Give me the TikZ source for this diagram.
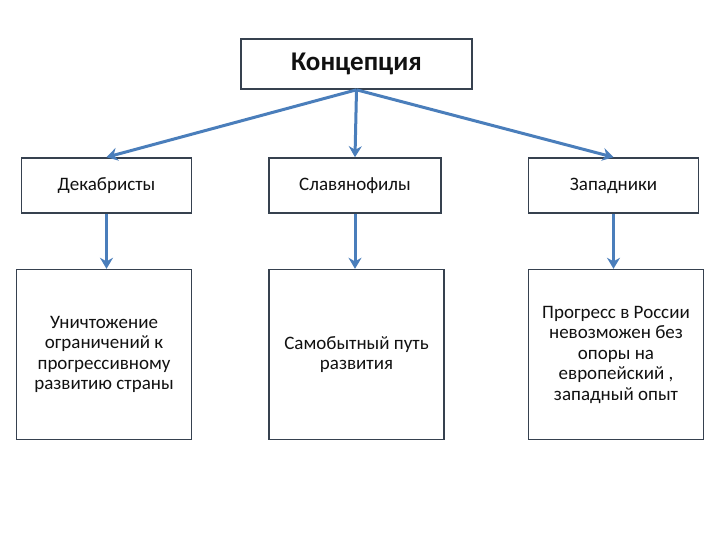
\documentclass[tikz,border=0pt]{standalone}
\usepackage{fontspec}
\setmainfont{Carlito}
\usepackage{xcolor}
\usetikzlibrary{arrows.meta,positioning}
\definecolor{ckInk}{HTML}{36414F}
\definecolor{ckLine}{HTML}{4A7EBB}
\definecolor{ckText}{HTML}{111111}
\tikzset{
  % Title box
  tbox/.style={rectangle,draw=ckInk,line width=1.6bp,fill=white,
    minimum width=231bp,minimum height=50bp,
    align=center,font=\fontsize{27bp}{30bp}\selectfont\bfseries,text=ckText},
  % Group box
  gbox/.style={rectangle,draw=ckInk,line width=1.6bp,fill=white,
    minimum width=170bp,minimum height=55bp,
    align=center,font=\fontsize{19bp}{21bp}\selectfont,text=ckText},
  % Idea box
  ibox/.style={rectangle,draw=ckInk,line width=1.6bp,fill=white,
    minimum width=175bp,minimum height=170bp,
    align=center,font=\fontsize{19bp}{20.5bp}\selectfont,text=ckText},
  % Arrows
  arr/.style={-{Stealth[length=11bp,width=13bp]},line width=3bp,color=ckLine},
}
\begin{document}
\begin{tikzpicture}[x=1bp,y=-1bp]
  \useasboundingbox[fill=white] (0,0) rectangle (720,540);

  %% --- TOP ---
  \node[tbox] (concept) at (356.5,64) {Концепция};

  %% --- GROUPS ---
  \node[gbox] (dek) at (106.5,185.5) {Декабристы};
  \node[gbox,minimum width=172bp] (slav) at (355,185.5) {Славянофилы};
  \node[gbox] (zap) at (613.5,185.5) {Западники};

  %% --- IDEAS ---
  \node[ibox,below=55bp of dek.south west,anchor=north west,xshift=-5bp] (idea1)
    {Уничтожение\\ограничений к\\прогрессивному\\развитию страны};
  \node[ibox,below=55bp of slav.south west,anchor=north west] (idea2)
    {Самобытный путь\\развития};
  \node[ibox,below=55bp of zap.south west,anchor=north west] (idea3)
    {Прогресс в России\\невозможен без\\опоры на\\европейский ,\\западный опыт};

  \draw[arr] (concept.south) -- (dek.north);
  \draw[arr] (concept.south) -- (slav.north);
  \draw[arr] (concept.south) -- (zap.north);

  \draw[arr] (dek.south) -- (dek.south |- idea1.north);
  \draw[arr] (slav.south) -- (slav.south |- idea2.north);
  \draw[arr] (zap.south) -- (zap.south |- idea3.north);
\end{tikzpicture}
\end{document}
